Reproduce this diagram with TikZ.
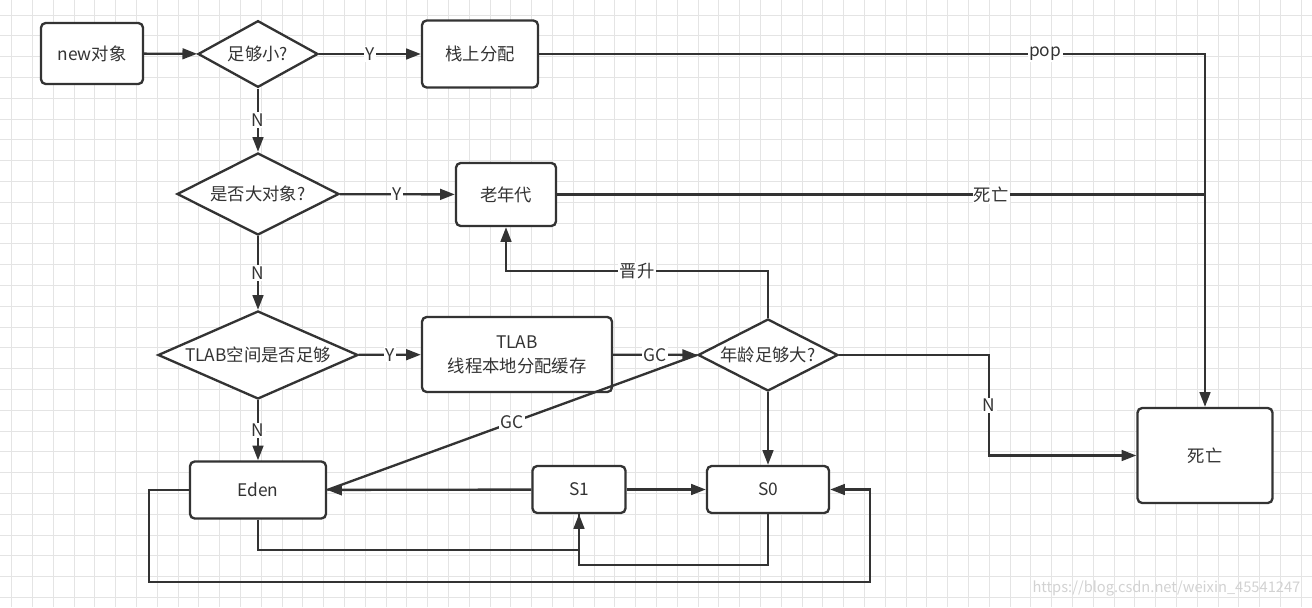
\documentclass[tikz,border=0pt]{standalone}
\usepackage{fontspec}
\setmainfont{Noto Sans CJK SC}
\usepackage{tikz}
\usetikzlibrary{positioning,shapes.geometric,arrows.meta}
\definecolor{linegray}{HTML}{333333}
\definecolor{gridgray}{HTML}{E4E4E4}

\begin{document}
\begin{tikzpicture}[x=0.75pt,y=-0.75pt,
  font=\fontsize{13}{18}\selectfont,
  box/.style={draw=linegray,line width=1.75pt,rounded corners=3.5pt,fill=white,text=linegray,align=center,inner sep=0pt},
  decision/.style={draw=linegray,line width=1.75pt,diamond,fill=white,text=linegray,inner sep=0pt},
  link/.style={draw=linegray,line width=1.75pt,-{Triangle[length=11pt,width=8pt]}},
  plain/.style={draw=linegray,line width=1.75pt},
  tag/.style={fill=white,text=linegray,inner sep=1pt},
  gridline/.style={draw=gridgray,line width=0.75pt}]
    \useasboundingbox [fill=white] (0,0) rectangle (1312,607);
    \foreach \gx in {0,...,62}
      \draw [gridline] ({11.7+20.8*\gx},0) -- ++(0,607);
    \foreach \gy in {0,...,28}
      \draw [gridline] (0,{15+20.8*\gy}) -- ++(1312,0);

    \node (new_object) [box,minimum width=76.5pt,minimum height=45.75pt] at (92,53.5) {new对象};
    \node (small_enough) [decision,minimum width=90pt,minimum height=50pt] at (258,54) {\makebox[0pt]{足够小?}};
    \node (stack_alloc) [box,minimum width=87pt,minimum height=50.25pt] at (480,54) {栈上分配};
    \node (large_object) [decision,minimum width=121.5pt,minimum height=61.5pt] at (258,194) {\makebox[0pt]{是否大对象?}};
    \node (old_gen) [box,minimum width=75pt,minimum height=47.25pt] at (506,194.5) {老年代};
    \node (tlab_enough) [decision,minimum width=150pt,minimum height=66pt] at (258,355) {\makebox[0pt]{TLAB空间是否足够}};
    \node (tlab) [box,minimum width=142.5pt,minimum height=56.25pt] at (517,354.5) {TLAB\\线程本地分配缓存};
    \node (old_enough) [decision,minimum width=105pt,minimum height=54pt] at (768,355) {\makebox[0pt]{年龄足够大?}};
    \node (eden) [box,minimum width=102pt,minimum height=42.75pt] at (258,490) {Eden};
    \node (s1) [box,minimum width=69.75pt,minimum height=35.25pt] at (579,489.5) {S1};
    \node (s0) [box,minimum width=91.5pt,minimum height=35.25pt] at (768,489.5) {S0};
    \node (dead) [box,minimum width=101.25pt,minimum height=71.25pt] at (1205,455.5) {死亡};

    \draw [link] (new_object) -- (small_enough);
    \draw [link] (small_enough) -- node [tag] {Y} (stack_alloc);
    \draw [link] (small_enough) -- node [tag] {N} (large_object);
    \draw [link] (stack_alloc.east) -| node [tag,pos=0.38] {pop} (dead.north);
    \draw [plain] (old_gen.east) -- node [tag,pos=0.67] {死亡} (old_gen.east -| dead.north);
    \draw [link] (large_object) -- node [tag] {Y} (old_gen);
    \draw [link] (large_object) -- node [tag] {N} (tlab_enough);
    \draw [link] (tlab_enough) -- node [tag] {Y} (tlab);
    \draw [link] (tlab_enough) -- node [tag] {N} (eden);
    \draw [link] (tlab) -- node [tag] {GC} (old_enough);
    \draw [plain] (old_enough.west) -- node [tag] {GC} (eden.east);
    \draw [link] (old_enough.north) -- ++(0,-47) -| node [tag,pos=0.25] {晋升} (old_gen.south);
    \draw [link] (old_enough.east) -- ++(150,0) |- node [tag,pos=0.25] {N} (dead.west);
    \draw [link] (old_enough) -- (s0);
    \draw [link] (s1) -- (eden);
    \draw [link] (s1) -- (s0);
    \draw [link] (eden.south) -- ++(0,30) -| (s1.south);
    \draw [plain] (s0.south) -- ++(0,51) -| (s1.south);
    \draw [link] (eden.west) -- ++(-40,0) -- ++(0,92) -| ([xshift=30pt]s0.east) -- (s0.east);

    \node (watermark) [text=gray!35,font=\fontsize{11}{13}\selectfont,anchor=east] at (1305,588) {https://blog.csdn.net/weixin\_45541247};
  \end{tikzpicture}
\end{document}
